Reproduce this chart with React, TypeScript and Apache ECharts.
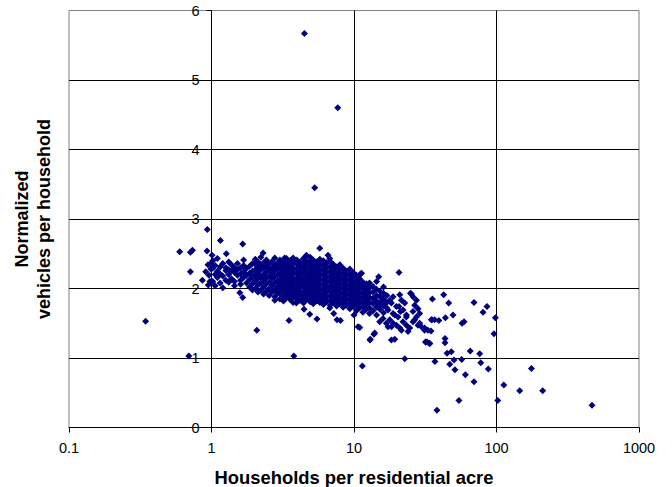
import React, { useEffect, useRef } from "react";
import * as echarts from "echarts";

// ---- Data ----
const outliers: [number, number][] = [
  [4.49, 5.67], [7.69, 4.6], [5.3, 3.45],
];

const leftPoints: [number, number][] = [
  [0.345, 1.53], [0.693, 1.03], [0.598, 2.53], [0.711, 2.52], [0.735, 2.55],
  [0.935, 2.85], [0.711, 2.24], [0.863, 2.12], [0.95, 2.05], [0.93, 2.54],
  [0.945, 2.34], [0.91, 2.24], [0.96, 2.19], [0.99, 2.36], [1.154, 2.69],
  [1.656, 2.64], [1.27, 2.5], [1.009, 2.48], [0.99, 2.28], [0.975, 2.1],
];

// columns of the dense cloud: [households per acre, [vehicles per household...]]
const cloudColumns: [number, number[]][] = [
  [1.02, [2.1, 2.29, 2.4]],
  [1.06, [2.04, 2.2, 2.33]],
  [1.1, [2.16, 2.25, 2.43]],
  [1.15, [2.08, 2.21, 2.31]],
  [1.2, [2.18, 2.36, 2.01]],
  [1.26, [2.12, 2.26, 2.3]],
  [1.32, [2.2, 2.27, 2.09, 2.38]],
  [1.38, [2.14, 2.26, 2.34]],
  [1.45, [2.1, 2.23, 2.3, 2.04]],
  [1.52, [2.19, 2.27, 2.36]],
  [1.6, [2.12, 2.21, 2.3, 2.06]],
  [1.68, [2.16, 2.24, 2.33, 2.41]],
  [1.76, [2.08, 2.19, 2.29]],
  [1.85, [2.13, 2.22, 2.32, 2.02]],
  [1.94, [2.17, 2.25, 2.36, 2.07, 1.98]],
  [2.03, [2.0, 2.11, 2.19, 2.27, 2.35, 2.42]],
  [2.12, [2.05, 2.14, 2.22, 2.31, 1.95, 2.38]],
  [2.22, [1.98, 2.08, 2.17, 2.27, 2.34, 2.45]],
  [2.32, [2.02, 2.12, 2.2, 2.29, 2.37, 1.92]],
  [2.43, [1.96, 2.07, 2.15, 2.24, 2.32, 2.41]],
  [2.54, [2.0, 2.09, 2.18, 2.27, 2.36, 1.9]],
  [2.66, [1.95, 2.04, 2.14, 2.22, 2.3, 2.39]],
  [2.78, [1.98, 2.08, 2.17, 2.26, 2.34, 1.88, 2.44]],
  [2.91, [1.93, 2.02, 2.11, 2.2, 2.29, 2.37]],
  [3.02, [1.85, 1.93, 1.99, 2.07, 2.13, 2.21, 2.27, 2.34, 2.41]],
  [3.2, [1.82, 1.89, 1.97, 2.03, 2.1, 2.17, 2.24, 2.31, 2.38]],
  [3.36, [1.87, 1.94, 2.01, 2.08, 2.15, 2.22, 2.29, 2.36, 2.43]],
  [3.56, [1.84, 1.9, 1.98, 2.05, 2.11, 2.19, 2.26, 2.32, 2.4]],
  [3.74, [1.8, 1.88, 1.95, 2.02, 2.09, 2.15, 2.23, 2.3, 2.37, 2.44]],
  [3.97, [1.85, 1.92, 1.99, 2.06, 2.13, 2.2, 2.27, 2.35, 2.41]],
  [4.17, [1.83, 1.9, 1.96, 2.04, 2.11, 2.18, 2.25, 2.32, 2.38]],
  [4.42, [1.79, 1.86, 1.94, 2.01, 2.08, 2.14, 2.22, 2.29, 2.36, 2.43]],
  [4.64, [1.84, 1.91, 1.98, 2.05, 2.12, 2.19, 2.26, 2.33, 2.4]],
  [4.92, [1.81, 1.88, 1.95, 2.02, 2.09, 2.16, 2.23, 2.3, 2.37, 2.45]],
  [5.17, [1.78, 1.85, 1.92, 1.99, 2.06, 2.13, 2.2, 2.27, 2.34, 2.41]],
  [5.48, [1.82, 1.89, 1.96, 2.03, 2.1, 2.17, 2.24, 2.31, 2.38]],
  [5.76, [1.8, 1.87, 1.93, 2.0, 2.07, 2.14, 2.21, 2.28, 2.35, 2.42]],
  [6.1, [1.77, 1.84, 1.91, 1.98, 2.05, 2.12, 2.19, 2.26, 2.33, 2.4]],
  [6.42, [1.81, 1.88, 1.95, 2.02, 2.09, 2.16, 2.23, 2.3, 2.37]],
  [6.8, [1.76, 1.83, 1.9, 1.97, 2.04, 2.11, 2.18, 2.25, 2.32, 2.39]],
  [7.15, [1.79, 1.86, 1.93, 2.0, 2.07, 2.14, 2.21, 2.28, 2.35]],
  [7.55, [1.75, 1.82, 1.89, 1.96, 2.03, 2.1, 2.17, 2.24, 2.31]],
  [7.95, [1.78, 1.85, 1.92, 1.99, 2.06, 2.13, 2.2, 2.27, 2.34]],
  [8.4, [1.73, 1.8, 1.87, 1.94, 2.01, 2.08, 2.15, 2.22, 2.29]],
  [8.85, [1.76, 1.83, 1.9, 1.97, 2.04, 2.11, 2.18, 2.25]],
  [9.35, [1.71, 1.78, 1.85, 1.92, 1.99, 2.06, 2.13, 2.2, 2.28]],
  [9.85, [1.74, 1.81, 1.88, 1.95, 2.02, 2.09, 2.16, 2.23]],
  [10.4, [1.68, 1.76, 1.83, 1.9, 1.97, 2.04, 2.11, 2.19]],
  [10.95, [1.72, 1.79, 1.86, 1.93, 2.0, 2.07, 2.14]],
  [11.55, [1.66, 1.74, 1.81, 1.88, 1.95, 2.02, 2.09]],
  [12.2, [1.7, 1.77, 1.84, 1.91, 1.98, 2.05]],
  [12.85, [1.64, 1.72, 1.8, 1.87, 1.94, 2.01, 2.08]],
  [13.6, [1.68, 1.78, 1.86, 1.95, 2.03]],
  [14.4, [1.62, 1.73, 1.82, 1.9, 1.99, 2.1]],
  [15.2, [1.7, 1.79, 1.88, 1.96]],
  [16.1, [1.65, 1.75, 1.85, 1.93, 2.02]],
  [17.0, [1.72, 1.8, 1.9]],
];

const edgePoints: [number, number][] = [
  [2.3, 2.51], [3.26, 2.44], [4.63, 2.48], [5.75, 2.58], [6.57, 2.48], [6.76, 2.43], [3.64, 2.41],
  [1.58, 1.94], [1.656, 1.87], [2.78, 1.83], [3.94, 1.79], [4.46, 1.7], [4.89, 1.63], [5.5, 1.56],
  [6.76, 1.72], [7.6, 1.55], [8.03, 1.54], [7.21, 1.64], [10.0, 1.62], [10.67, 1.45], [10.97, 1.44],
  [13.0, 1.27], [13.8, 1.34], [11.45, 0.885], [2.08, 1.4], [3.5, 1.54], [3.78, 1.03],
  [11.1, 2.21], [12.2, 2.07], [11.3, 2.22], [14.9, 2.17], [20.7, 2.23],
];

const midPoints: [number, number][] = [
  [20.94, 1.91], [21.53, 1.83], [20.7, 1.74], [21.18, 1.67], [20.37, 1.59], [22.08, 1.52],
  [20.94, 1.43], [24.88, 1.93], [25.94, 1.88], [27.42, 1.83], [26.67, 1.76], [28.12, 1.71],
  [28.91, 1.64], [27.42, 1.59], [25.94, 1.67], [19.31, 1.62], [17.81, 1.55], [16.88, 1.5],
  [15.98, 1.57], [15.14, 1.52], [18.31, 1.45], [19.85, 1.47], [18.79, 1.64], [17.33, 1.69],
  [16.42, 1.79], [17.81, 1.83], [18.79, 1.88], [15.98, 1.88], [13.97, 1.83], [14.75, 1.76],
  [23.33, 1.47], [24.6, 1.43], [23.93, 1.38], [25.94, 1.52], [28.12, 1.47], [29.72, 1.45],
  [31.33, 1.43], [33.04, 1.4], [34.91, 1.55], [36.8, 1.55], [18.31, 1.26], [19.31, 1.27],
  [13.97, 1.36], [12.95, 1.26], [31.84, 1.23], [33.96, 1.21], [22.7, 0.99], [22.08, 1.69],
  [23.33, 1.62], [22.7, 1.79], [25.3, 1.92], [16.0, 1.83], [18.3, 1.79], [19.85, 1.74],
  [23.3, 1.59], [26.7, 1.55], [28.9, 1.5], [31.3, 1.4], [17.33, 1.45], [18.8, 1.5], [21.5, 1.4],
];

const tailPoints: [number, number][] = [
  [35.5, 1.85], [42.6, 1.91], [46.2, 1.79], [49.5, 1.62], [69.5, 1.8], [80.4, 1.66],
  [85.8, 1.74], [98.2, 1.58], [96.0, 1.35], [43.8, 1.58], [35.2, 1.55], [39.4, 1.54],
  [57.3, 1.5], [59.2, 1.52], [34.7, 1.39], [43.5, 1.28], [43.5, 1.22], [45.0, 1.07],
  [48.2, 1.09], [50.3, 0.97], [57.0, 0.98], [65.4, 1.1], [76.2, 1.06], [77.5, 0.93],
  [87.6, 0.84], [47.0, 0.91], [51.1, 0.83], [60.5, 0.76], [69.5, 0.66], [37.0, 0.95],
  [54.5, 0.39], [38.2, 0.25], [102, 0.39], [112.5, 0.61], [145.5, 0.53], [211, 0.53],
  [175.8, 0.85], [468, 0.32], [31.8, 1.23], [34.0, 1.21], [32.6, 1.23],
];

const X_TITLE = "Households per residential acre";
const Y_TITLE_LINES = ["Normalized", "vehicles per household"];
const Y_MIN = 0;
const Y_MAX = 6;
const Y_STEP = 1;
const X_MIN = 0.1;
const X_MAX = 1000;

const FONT = '"Liberation Sans", Arial, Helvetica, sans-serif';

export default function App() {
  const ref = useRef<HTMLDivElement>(null);

  useEffect(() => {
    if (!ref.current) return;
    const chart = echarts.init(ref.current, undefined, { renderer: "svg" });

    const cloud: [number, number][] = cloudColumns.flatMap(([x, ys]) =>
      ys.map((y) => [x, y] as [number, number])
    );
    const allPoints = [
      ...outliers,
      ...leftPoints,
      ...cloud,
      ...edgePoints,
      ...midPoints,
      ...tailPoints,
    ];

    const gridLeft = 69;
    const gridWidth = 570;

    chart.setOption({
      animation: false,
      backgroundColor: "#ffffff",
      grid: {
        left: gridLeft,
        top: 10.5,
        width: gridWidth,
        height: 417,
        show: true,
        borderColor: "#808080",
        borderWidth: 1,
        backgroundColor: "transparent",
        containLabel: false,
        outerBoundsMode: "none",
      },
      xAxis: {
        type: "log",
        logBase: 10,
        min: X_MIN,
        max: X_MAX,
        axisLine: { show: true, onZero: false, lineStyle: { color: "#000", width: 1 } },
        axisTick: { show: true, length: 5, inside: false, lineStyle: { color: "#000", width: 1 } },
        axisLabel: {
          color: "#000",
          fontSize: 14.5,
          fontFamily: FONT,
          margin: 13,
          formatter: (v: number) => (v < 1 ? String(Math.round(v * 10) / 10) : String(Math.round(v))),
        },
        splitLine: {
          show: true,
          showMinLine: false,
          showMaxLine: false,
          lineStyle: { color: "#000", width: 1 },
        },
      },
      yAxis: {
        type: "value",
        min: Y_MIN,
        max: Y_MAX,
        interval: Y_STEP,
        offset: -gridWidth / 4,
        axisLine: { show: true, onZero: false, lineStyle: { color: "#000", width: 1 } },
        axisTick: { show: true, length: 5, inside: false, lineStyle: { color: "#000", width: 1 } },
        axisLabel: { color: "#000", fontSize: 14.5, fontFamily: FONT, margin: 12 },
        splitLine: {
          show: true,
          showMinLine: false,
          showMaxLine: false,
          lineStyle: { color: "#000", width: 1 },
        },
      },
      series: [
        {
          type: "scatter",
          data: allPoints,
          symbol: "diamond",
          symbolSize: 7,
          itemStyle: { color: "#000080", opacity: 1 },
          silent: true,
        },
      ],
      graphic: [
        {
          type: "text",
          x: 354,
          y: 477,
          style: {
            text: X_TITLE,
            fill: "#000",
            fontSize: 18.4,
            fontWeight: "bold",
            fontFamily: FONT,
            align: "center",
            verticalAlign: "middle",
          },
        },
        {
          type: "text",
          x: 33,
          y: 219,
          rotation: Math.PI / 2,
          style: {
            text: Y_TITLE_LINES.join("\n"),
            fill: "#000",
            fontSize: 18,
            fontWeight: "bold",
            fontFamily: FONT,
            align: "center",
            verticalAlign: "middle",
            lineHeight: 22.5,
          },
        },
      ],
    });

    return () => chart.dispose();
  }, []);

  return (
    <div
      ref={ref}
      style={{ position: "absolute", left: 0, top: 0, width: 672, height: 487, background: "#fff" }}
    />
  );
}
